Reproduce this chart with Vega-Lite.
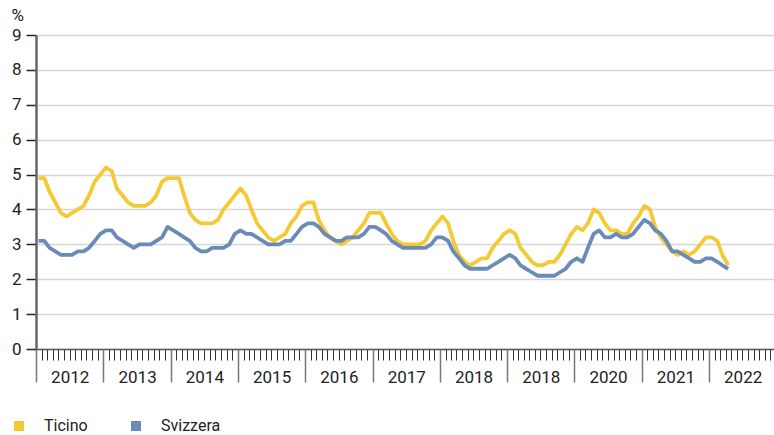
{
"$schema": "https://vega.github.io/schema/vega-lite/v6.json",
"autosize": {"type": "none"},
"padding": {"left": 36, "top": 35, "right": 0, "bottom": 86},
"width": 738,
"height": 314,
"config": {"view": {"stroke": null}, "font": "Roboto"},
"data": {"values": [
{"d":"2012-01-15","Ticino":4.9,"Svizzera":3.1},{"d":"2012-02-15","Ticino":4.9,"Svizzera":3.1},{"d":"2012-03-15","Ticino":4.5,"Svizzera":2.9},{"d":"2012-04-15","Ticino":4.2,"Svizzera":2.8},{"d":"2012-05-15","Ticino":3.9,"Svizzera":2.7},{"d":"2012-06-15","Ticino":3.8,"Svizzera":2.7},{"d":"2012-07-15","Ticino":3.9,"Svizzera":2.7},{"d":"2012-08-15","Ticino":4.0,"Svizzera":2.8},{"d":"2012-09-15","Ticino":4.1,"Svizzera":2.8},{"d":"2012-10-15","Ticino":4.4,"Svizzera":2.9},{"d":"2012-11-15","Ticino":4.8,"Svizzera":3.1},{"d":"2012-12-15","Ticino":5.0,"Svizzera":3.3},
{"d":"2013-01-15","Ticino":5.2,"Svizzera":3.4},{"d":"2013-02-15","Ticino":5.1,"Svizzera":3.4},{"d":"2013-03-15","Ticino":4.6,"Svizzera":3.2},{"d":"2013-04-15","Ticino":4.4,"Svizzera":3.1},{"d":"2013-05-15","Ticino":4.2,"Svizzera":3.0},{"d":"2013-06-15","Ticino":4.1,"Svizzera":2.9},{"d":"2013-07-15","Ticino":4.1,"Svizzera":3.0},{"d":"2013-08-15","Ticino":4.1,"Svizzera":3.0},{"d":"2013-09-15","Ticino":4.2,"Svizzera":3.0},{"d":"2013-10-15","Ticino":4.4,"Svizzera":3.1},{"d":"2013-11-15","Ticino":4.8,"Svizzera":3.2},{"d":"2013-12-15","Ticino":4.9,"Svizzera":3.5},
{"d":"2014-01-15","Ticino":4.9,"Svizzera":3.4},{"d":"2014-02-15","Ticino":4.9,"Svizzera":3.3},{"d":"2014-03-15","Ticino":4.4,"Svizzera":3.2},{"d":"2014-04-15","Ticino":3.9,"Svizzera":3.1},{"d":"2014-05-15","Ticino":3.7,"Svizzera":2.9},{"d":"2014-06-15","Ticino":3.6,"Svizzera":2.8},{"d":"2014-07-15","Ticino":3.6,"Svizzera":2.8},{"d":"2014-08-15","Ticino":3.6,"Svizzera":2.9},{"d":"2014-09-15","Ticino":3.7,"Svizzera":2.9},{"d":"2014-10-15","Ticino":4.0,"Svizzera":2.9},{"d":"2014-11-15","Ticino":4.2,"Svizzera":3.0},{"d":"2014-12-15","Ticino":4.4,"Svizzera":3.3},
{"d":"2015-01-15","Ticino":4.6,"Svizzera":3.4},{"d":"2015-02-15","Ticino":4.4,"Svizzera":3.3},{"d":"2015-03-15","Ticino":4.0,"Svizzera":3.3},{"d":"2015-04-15","Ticino":3.6,"Svizzera":3.2},{"d":"2015-05-15","Ticino":3.4,"Svizzera":3.1},{"d":"2015-06-15","Ticino":3.2,"Svizzera":3.0},{"d":"2015-07-15","Ticino":3.1,"Svizzera":3.0},{"d":"2015-08-15","Ticino":3.2,"Svizzera":3.0},{"d":"2015-09-15","Ticino":3.3,"Svizzera":3.1},{"d":"2015-10-15","Ticino":3.6,"Svizzera":3.1},{"d":"2015-11-15","Ticino":3.8,"Svizzera":3.3},{"d":"2015-12-15","Ticino":4.1,"Svizzera":3.5},
{"d":"2016-01-15","Ticino":4.2,"Svizzera":3.6},{"d":"2016-02-15","Ticino":4.2,"Svizzera":3.6},{"d":"2016-03-15","Ticino":3.7,"Svizzera":3.5},{"d":"2016-04-15","Ticino":3.4,"Svizzera":3.3},{"d":"2016-05-15","Ticino":3.2,"Svizzera":3.2},{"d":"2016-06-15","Ticino":3.1,"Svizzera":3.1},{"d":"2016-07-15","Ticino":3.0,"Svizzera":3.1},{"d":"2016-08-15","Ticino":3.1,"Svizzera":3.2},{"d":"2016-09-15","Ticino":3.2,"Svizzera":3.2},{"d":"2016-10-15","Ticino":3.4,"Svizzera":3.2},{"d":"2016-11-15","Ticino":3.6,"Svizzera":3.3},{"d":"2016-12-15","Ticino":3.9,"Svizzera":3.5},
{"d":"2017-01-15","Ticino":3.9,"Svizzera":3.5},{"d":"2017-02-15","Ticino":3.9,"Svizzera":3.4},{"d":"2017-03-15","Ticino":3.6,"Svizzera":3.3},{"d":"2017-04-15","Ticino":3.3,"Svizzera":3.1},{"d":"2017-05-15","Ticino":3.1,"Svizzera":3.0},{"d":"2017-06-15","Ticino":3.0,"Svizzera":2.9},{"d":"2017-07-15","Ticino":3.0,"Svizzera":2.9},{"d":"2017-08-15","Ticino":3.0,"Svizzera":2.9},{"d":"2017-09-15","Ticino":3.0,"Svizzera":2.9},{"d":"2017-10-15","Ticino":3.1,"Svizzera":2.9},{"d":"2017-11-15","Ticino":3.4,"Svizzera":3.0},{"d":"2017-12-15","Ticino":3.6,"Svizzera":3.2},
{"d":"2018-01-15","Ticino":3.8,"Svizzera":3.2},{"d":"2018-02-15","Ticino":3.6,"Svizzera":3.1},{"d":"2018-03-15","Ticino":3.1,"Svizzera":2.8},{"d":"2018-04-15","Ticino":2.7,"Svizzera":2.6},{"d":"2018-05-15","Ticino":2.5,"Svizzera":2.4},{"d":"2018-06-15","Ticino":2.4,"Svizzera":2.3},{"d":"2018-07-15","Ticino":2.5,"Svizzera":2.3},{"d":"2018-08-15","Ticino":2.6,"Svizzera":2.3},{"d":"2018-09-15","Ticino":2.6,"Svizzera":2.3},{"d":"2018-10-15","Ticino":2.9,"Svizzera":2.4},{"d":"2018-11-15","Ticino":3.1,"Svizzera":2.5},{"d":"2018-12-15","Ticino":3.3,"Svizzera":2.6},
{"d":"2019-01-15","Ticino":3.4,"Svizzera":2.7},{"d":"2019-02-15","Ticino":3.3,"Svizzera":2.6},{"d":"2019-03-15","Ticino":2.9,"Svizzera":2.4},{"d":"2019-04-15","Ticino":2.7,"Svizzera":2.3},{"d":"2019-05-15","Ticino":2.5,"Svizzera":2.2},{"d":"2019-06-15","Ticino":2.4,"Svizzera":2.1},{"d":"2019-07-15","Ticino":2.4,"Svizzera":2.1},{"d":"2019-08-15","Ticino":2.5,"Svizzera":2.1},{"d":"2019-09-15","Ticino":2.5,"Svizzera":2.1},{"d":"2019-10-15","Ticino":2.7,"Svizzera":2.2},{"d":"2019-11-15","Ticino":3.0,"Svizzera":2.3},{"d":"2019-12-15","Ticino":3.3,"Svizzera":2.5},
{"d":"2020-01-15","Ticino":3.5,"Svizzera":2.6},{"d":"2020-02-15","Ticino":3.4,"Svizzera":2.5},{"d":"2020-03-15","Ticino":3.6,"Svizzera":2.9},{"d":"2020-04-15","Ticino":4.0,"Svizzera":3.3},{"d":"2020-05-15","Ticino":3.9,"Svizzera":3.4},{"d":"2020-06-15","Ticino":3.6,"Svizzera":3.2},{"d":"2020-07-15","Ticino":3.4,"Svizzera":3.2},{"d":"2020-08-15","Ticino":3.4,"Svizzera":3.3},{"d":"2020-09-15","Ticino":3.3,"Svizzera":3.2},{"d":"2020-10-15","Ticino":3.3,"Svizzera":3.2},{"d":"2020-11-15","Ticino":3.6,"Svizzera":3.3},{"d":"2020-12-15","Ticino":3.8,"Svizzera":3.5},
{"d":"2021-01-15","Ticino":4.1,"Svizzera":3.7},{"d":"2021-02-15","Ticino":4.0,"Svizzera":3.6},{"d":"2021-03-15","Ticino":3.5,"Svizzera":3.4},{"d":"2021-04-15","Ticino":3.2,"Svizzera":3.3},{"d":"2021-05-15","Ticino":3.0,"Svizzera":3.1},{"d":"2021-06-15","Ticino":2.8,"Svizzera":2.8},{"d":"2021-07-15","Ticino":2.7,"Svizzera":2.8},{"d":"2021-08-15","Ticino":2.8,"Svizzera":2.7},{"d":"2021-09-15","Ticino":2.7,"Svizzera":2.6},{"d":"2021-10-15","Ticino":2.8,"Svizzera":2.5},{"d":"2021-11-15","Ticino":3.0,"Svizzera":2.5},{"d":"2021-12-15","Ticino":3.2,"Svizzera":2.6},
{"d":"2022-01-15","Ticino":3.2,"Svizzera":2.6},{"d":"2022-02-15","Ticino":3.1,"Svizzera":2.5},{"d":"2022-03-15","Ticino":2.7,"Svizzera":2.4},{"d":"2022-04-15","Ticino":2.4,"Svizzera":2.3}
]},
"transform": [{"fold": ["Ticino", "Svizzera"], "as": ["serie", "valore"]}],
"resolve": {"axis": {"x": "independent"}},
"encoding": {
  "y": {
    "field": "valore", "type": "quantitative",
    "scale": {"domain": [0, 9], "nice": false},
    "axis": {
      "title": "%",
      "titleAngle": 0,
      "titleAlign": "left",
      "titleBaseline": "top",
      "titleX": -25,
      "titleY": -28,
      "titleFontSize": 17,
      "titleFontWeight": "normal",
      "titleColor": "#222",
      "values": [0,1,2,3,4,5,6,7,8,9],
      "tickSize": 10,
      "tickColor": "#222",
      "tickWidth": 1.5,
      "domainColor": "#666",
      "domainWidth": 2.5,
      "gridColor": "#d6d6d6",
      "gridWidth": 1.5,
      "labelPadding": 5,
      "labelFontSize": 17,
      "labelColor": "#222"
    }
  }
},
"layer": [
{
"mark": {"type": "line", "strokeWidth": 3.8, "strokeJoin": "round", "clip": false},
"encoding": {
  "x": {
    "field": "d", "type": "temporal",
    "scale": {"type": "utc", "domain": [{"year": 2012, "month": 1, "date": 1, "utc": true}, {"year": 2022, "month": 12, "date": 20, "utc": true}]},
    "axis": {
      "orient": "bottom",
      "title": null,
      "tickCount": {"interval": "month", "step": 1},
      "tickSize": 11,
      "tickColor": "#333",
      "tickWidth": 1,
      "domainColor": "#555",
      "domainWidth": 1.5,
      "grid": false,
      "labels": false
    }
  },
  "color": {
    "field": "serie", "type": "nominal",
    "scale": {"domain": ["Ticino", "Svizzera"], "range": ["#f5c934", "#6a8bb8"]},
    "legend": {
      "title": null,
      "orient": "none",
      "legendX": -25,
      "legendY": 383,
      "direction": "horizontal",
      "symbolType": "square",
      "symbolSize": 100,
      "symbolStrokeWidth": 0,
      "symbolOpacity": 1,
      "labelFontSize": 16,
      "labelColor": "#222",
      "labelOffset": 17,
      "columnPadding": 40,
      "padding": 0,
      "encode": {"symbols": {"update": {"fill": {"signal": "scale('color', datum.value)"}, "strokeWidth": {"value": 0}}}}
    }
  }
}
},
{
"mark": {"type": "point", "opacity": 0},
"encoding": {
  "x": {
    "field": "d", "type": "temporal",
    "axis": {
      "orient": "bottom",
      "title": null,
      "tickCount": {"interval": "year", "step": 1},
      "tickSize": 33,
      "tickColor": "#777",
      "tickWidth": 1.5,
      "domain": false,
      "grid": false,
      "labelExpr": "utcyear(datum.value) === 2019 ? '2018' : utcFormat(datum.value, '%Y')",
      "labelOffset": 33.7,
      "labelAlign": "center",
      "labelBaseline": "top",
      "labelPadding": -13,
      "labelOverlap": false,
      "labelFlush": false,
      "labelBound": false,
      "labelFontSize": 17,
      "labelColor": "#222"
    }
  }
}
}
]
}
